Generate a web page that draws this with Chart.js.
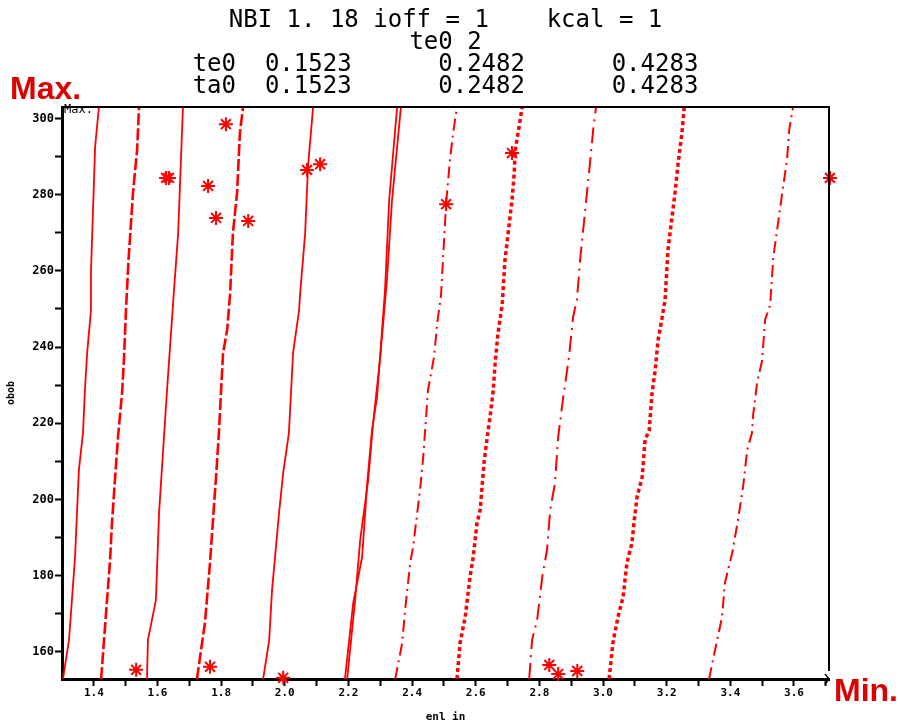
<!DOCTYPE html>
<html>
<head>
<meta charset="utf-8">
<title>NBI</title>
<script src="https://cdn.jsdelivr.net/npm/chart.js@4"></script>
<style>
	html, body { margin: 0; padding: 0; background: #fff; }
	#contenedor { width: 900px; height: 728px; position: relative; }
</style>
</head>
<body>
<div id="contenedor"><canvas id="grafica" width="900" height="728"></canvas></div>
<script>
// Datos de las curvas (enlin / abab)
var curva1X = [1.303, 1.322, 1.341, 1.353, 1.366, 1.372, 1.379, 1.391, 1.391, 1.404, 1.416];
var curva1Y = [152.9, 163.1, 184.9, 207.7, 217.5, 228.7, 238.4, 249.7, 259.7, 292.5, 303.0];

var curva2X = [1.423, 1.432, 1.451, 1.457, 1.467, 1.476, 1.489, 1.495, 1.501, 1.509, 1.523, 1.536, 1.542];
var curva2Y = [152.9, 163.1, 184.1, 193.8, 205.9, 216.4, 228.2, 237.4, 249.7, 262.9, 280.4, 291.7, 303.0];

var curva3X = [1.567, 1.570, 1.595, 1.605, 1.630, 1.652, 1.665, 1.680];
var curva3Y = [152.9, 163.1, 173.6, 196.5, 228.7, 255.0, 269.9, 303.0];

var curva4X = [1.724, 1.749, 1.765, 1.775, 1.784, 1.793, 1.806, 1.819, 1.828, 1.837, 1.850, 1.859, 1.869];
var curva4Y = [152.9, 167.6, 183.3, 195.4, 205.9, 217.5, 238.4, 244.5, 253.7, 269.9, 280.4, 296.2, 303.0];

var curva5X = [1.932, 1.951, 1.960, 1.982, 1.995, 2.013, 2.026, 2.045, 2.048, 2.064, 2.073, 2.089];
var curva5Y = [152.9, 163.1, 176.3, 196.5, 207.0, 217.5, 238.4, 249.7, 253.7, 269.9, 287.3, 303.0];

var curva6aX = [2.189, 2.215, 2.243, 2.259, 2.274, 2.290, 2.315, 2.328, 2.353];
var curva6aY = [152.9, 172.8, 184.9, 204.3, 218.2, 226.9, 255.0, 278.6, 303.0];

var curva6bX = [2.196, 2.221, 2.237, 2.262, 2.277, 2.299, 2.321, 2.337, 2.365];
var curva6bY = [152.9, 173.6, 189.4, 205.1, 219.6, 236.6, 257.6, 278.6, 303.0];

var curva7X = [2.347, 2.369, 2.378, 2.394, 2.403, 2.425, 2.435, 2.450, 2.469, 2.479, 2.491, 2.507, 2.519, 2.529, 2.541];
var curva7Y = [152.9, 162.4, 171.0, 183.3, 187.5, 202.5, 211.2, 228.7, 237.4, 246.3, 253.7, 277.8, 289.1, 296.2, 303.0];

var curva8X = [2.541, 2.551, 2.567, 2.582, 2.592, 2.604, 2.614, 2.626, 2.636, 2.645, 2.655, 2.661, 2.670, 2.683, 2.692, 2.714, 2.721, 2.724, 2.733, 2.746];
var curva8Y = [152.9, 162.4, 169.2, 179.7, 184.9, 193.8, 197.3, 209.6, 216.4, 221.7, 228.7, 235.8, 243.7, 251.0, 262.9, 278.6, 285.7, 291.7, 296.2, 303.0];

var curva9X = [2.768, 2.777, 2.793, 2.809, 2.824, 2.834, 2.849, 2.859, 2.875, 2.893, 2.906, 2.918, 2.928, 2.959, 2.969, 2.978];
var curva9Y = [152.9, 163.1, 168.4, 179.7, 186.8, 197.3, 204.3, 216.4, 226.9, 237.4, 247.9, 252.4, 262.9, 288.3, 297.0, 303.0];

var curva10X = [3.019, 3.031, 3.047, 3.063, 3.075, 3.091, 3.097, 3.107, 3.123, 3.132, 3.145, 3.154, 3.164, 3.173, 3.186, 3.195, 3.204, 3.226, 3.236, 3.248, 3.255];
var curva10Y = [152.9, 162.4, 169.2, 174.4, 183.3, 188.6, 193.8, 200.7, 205.9, 215.6, 218.2, 227.9, 234.0, 241.9, 247.9, 252.4, 265.5, 280.4, 288.3, 296.2, 303.0];

var curva11X = [3.333, 3.352, 3.374, 3.383, 3.406, 3.424, 3.440, 3.453, 3.468, 3.471, 3.484, 3.500, 3.509, 3.525, 3.535, 3.563, 3.578, 3.585, 3.597];
var curva11Y = [152.9, 160.5, 169.2, 178.1, 186.0, 194.6, 203.3, 213.0, 217.5, 221.7, 230.6, 236.6, 247.1, 251.0, 263.6, 280.4, 289.1, 297.0, 303.0];

// Asteriscos
var estrellasX = [1.533, 1.765, 1.995, 1.815, 1.636, 1.627, 1.759, 1.784, 1.885, 2.070, 2.111, 2.714, 2.507, 3.713, 2.831, 2.859, 2.919];
var estrellasY = [155.3, 156.1, 153.2, 298.5, 284.4, 284.4, 282.3, 273.9, 273.1, 286.5, 288.0, 290.9, 277.5, 284.4, 156.6, 154.2, 155.0];

// Marcas de los ejes
var ticksX = [1.4, 1.5, 1.6, 1.7, 1.8, 1.9, 2.0, 2.1, 2.2, 2.3, 2.4, 2.5, 2.6, 2.7, 2.8, 2.9, 3.0, 3.1, 3.2, 3.3, 3.4, 3.5, 3.6, 3.7];
var etiquetasX = [1.4, 1.6, 1.8, 2.0, 2.2, 2.4, 2.6, 2.8, 3.0, 3.2, 3.4, 3.6];
var ticksY = [160, 170, 180, 190, 200, 210, 220, 230, 240, 250, 260, 270, 280, 290, 300];
var etiquetasY = [160, 180, 200, 220, 240, 260, 280, 300];

// Textos
var titulo = [
	'NBI 1. 18 ioff = 1    kcal = 1',
	'te0 2',
	'te0  0.1523      0.2482      0.4283',
	'ta0  0.1523      0.2482      0.4283'
];
var tituloX = 'enl in';
var tituloY = 'obob';

var rojo = '#ff0000';

function serie(xs, ys) {
	var puntos = [];
	for (var i = 0; i < xs.length; i++) {
		puntos.push({ x: xs[i], y: ys[i] });
	}
	return puntos;
}

function curva(xs, ys, guion, grosor) {
	return {
		data: serie(xs, ys),
		showLine: true,
		borderColor: rojo,
		backgroundColor: rojo,
		borderWidth: grosor,
		borderDash: guion,
		pointRadius: 0,
		tension: 0
	};
}

var guiones = [12, 3];
var rayaPunto = [12, 5, 2, 5];
var rayaPuntoLargo = [16, 6, 2, 6];
var punteado = [4, 3];

var datasets = [
	curva(curva1X, curva1Y, [], 1.8),
	curva(curva2X, curva2Y, guiones, 2.6),
	curva(curva3X, curva3Y, [], 1.8),
	curva(curva4X, curva4Y, guiones, 2.6),
	curva(curva5X, curva5Y, [], 1.8),
	curva(curva6aX, curva6aY, [], 1.8),
	curva(curva6bX, curva6bY, [], 1.8),
	curva(curva7X, curva7Y, rayaPunto, 2),
	curva(curva8X, curva8Y, punteado, 3.5),
	curva(curva9X, curva9Y, rayaPuntoLargo, 2),
	curva(curva10X, curva10Y, punteado, 3.5),
	curva(curva11X, curva11Y, rayaPunto, 2),
	{
		data: serie(estrellasX, estrellasY),
		showLine: false,
		pointStyle: 'star',
		pointRadius: 7,
		pointBorderWidth: 2,
		borderColor: rojo,
		backgroundColor: rojo,
		clip: false
	}
];

function ponerTicks(lista) {
	return function (scale) {
		scale.ticks = lista.map(function (v) { return { value: v }; });
	};
}

// Titulo, marco superior/derecho y etiquetas Max. / Min.
var marco = {
	id: 'marco',
	afterDraw: function (chart) {
		var ctx = chart.ctx;
		var a = chart.chartArea;
		ctx.save();
		ctx.strokeStyle = '#000';
		ctx.lineWidth = 2;
		ctx.beginPath();
		ctx.moveTo(a.left, a.top);
		ctx.lineTo(a.right, a.top);
		ctx.lineTo(a.right, a.bottom - 8);
		ctx.stroke();
		ctx.lineWidth = 1.5;
		ctx.beginPath();
		ctx.moveTo(a.right - 4, a.bottom - 5);
		ctx.lineTo(a.right, a.bottom);
		ctx.lineTo(a.right - 4, a.bottom + 5);
		ctx.stroke();

		ctx.fillStyle = '#000';
		ctx.font = '24px "DejaVu Sans Mono"';
		ctx.textAlign = 'center';
		ctx.textBaseline = 'middle';
		for (var i = 0; i < titulo.length; i++) {
			ctx.fillText(titulo[i], (a.left + a.right) / 2, 21 + i * 22);
		}

		ctx.textAlign = 'left';
		ctx.font = '12px "DejaVu Sans Mono"';
		ctx.fillText('Max.', a.left + 2, a.top + 3);

		ctx.fillStyle = '#dd0000';
		ctx.font = 'bold 32px "Liberation Sans"';
		ctx.textBaseline = 'alphabetic';
		ctx.fillText('Max.', 10, 99);
		ctx.fillText('Min.', 834, 701);
		ctx.restore();
	}
};

var config = {
	type: 'scatter',
	data: { datasets: datasets },
	options: {
		responsive: false,
		animation: false,
		layout: { padding: { left: 0, right: 71, top: 107, bottom: 0 } },
		plugins: {
			legend: { display: false },
			tooltip: { enabled: false },
			title: { display: false }
		},
		scales: {
			x: {
				type: 'linear',
				min: 1.3,
				max: 3.71,
				afterBuildTicks: ponerTicks(ticksX),
				afterFit: function (scale) { scale.height = 49; },
				border: { display: true, color: '#000', width: 3 },
				grid: { drawOnChartArea: false, drawTicks: true, tickLength: 7, tickColor: '#000', tickWidth: 2 },
				ticks: {
					autoSkip: false,
					maxRotation: 0,
					padding: 1,
					color: '#000',
					font: { family: 'DejaVu Sans Mono', size: 11, weight: 'bold' },
					callback: function (valor) {
						return etiquetasX.indexOf(valor) >= 0 ? valor.toFixed(1) : '';
					}
				},
				title: {
					display: true,
					text: tituloX,
					color: '#000',
					font: { family: 'DejaVu Sans Mono', size: 11, weight: 'bold' },
					padding: { top: 0, bottom: 4 }
				}
			},
			y: {
				type: 'linear',
				min: 152.9,
				max: 303.0,
				afterBuildTicks: ponerTicks(ticksY),
				afterFit: function (scale) { scale.width = 62; },
				border: { display: true, color: '#000', width: 3 },
				grid: { drawOnChartArea: false, drawTicks: true, tickLength: 7, tickColor: '#000', tickWidth: 2 },
				ticks: {
					autoSkip: false,
					padding: 1,
					color: '#000',
					font: { family: 'DejaVu Sans Mono', size: 12, weight: 'bold' },
					callback: function (valor) {
						return etiquetasY.indexOf(valor) >= 0 ? String(valor) : '';
					}
				},
				title: {
					display: true,
					text: tituloY,
					color: '#000',
					font: { family: 'DejaVu Sans Mono', size: 10, weight: 'bold' },
					padding: { top: 5, bottom: 0 }
				}
			}
		}
	},
	plugins: [marco]
};

const grafica = new Chart(document.getElementById('grafica'), config);
</script>
</body>
</html>
